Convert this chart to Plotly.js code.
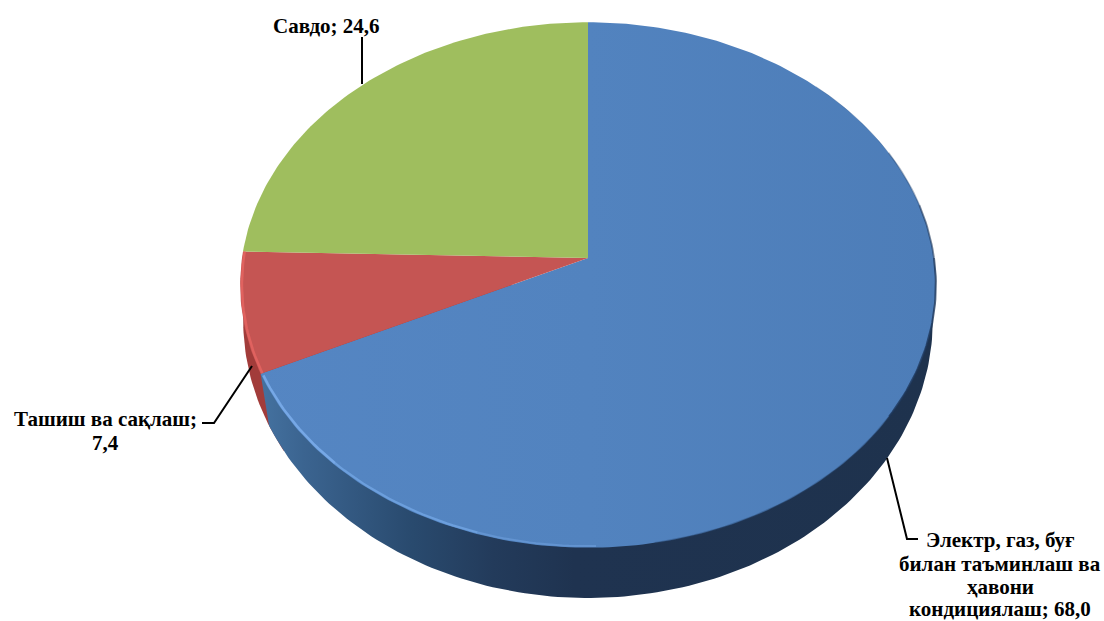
<!DOCTYPE html>
<html><head><meta charset="utf-8">
<script src="https://cdn.plot.ly/plotly-3.0.1.min.js"></script>
<style>html,body{margin:0;padding:0;background:#fff;overflow:hidden}#c{width:1104px;height:621px}</style>
</head><body><div id="c"></div>
<script>
// Data
var categories = ['Электр, газ, буғ<br>билан таъминлаш ва<br>ҳавони<br>кондициялаш', 'Ташиш ва сақлаш', 'Савдо'];
var values = [68.0, 7.4, 24.6];
var separators = ['; ', ';<br>', '; '];

// Styles
var topColors = ['#5081bd', '#c55553', '#9fbe5e'];
var wallColors = ['#2a4a70', '#a23c3a', '#7d9645'];
var labelX = [1000, 105, 326];
var labelLineY = [[540, 564, 587, 609], [419, 443], [26]];

// Projection of the tilted disc (perspective): value angle -> page pixels
var k = 0.1027;
var discTop = {cx: 588, cy: 258, a: 260, b: 346};
var discLow = {cx: 588, cy: 291.5, a: 275, b: 343};
function proj(d, deg, r) {
  var t = deg * Math.PI / 180, px = r * Math.sin(t), py = r * Math.cos(t), w = 1 + k * py;
  return [d.cx + d.b * px / w, d.cy - d.a * py / w];
}
function arc(d, a0, a1, r) {
  var xs = [], ys = [], n = Math.max(2, Math.ceil(Math.abs(a1 - a0) / 1));
  for (var i = 0; i <= n; i++) { var p = proj(d, a0 + (a1 - a0) * i / n, r); xs.push(p[0]); ys.push(p[1]); }
  return {x: xs, y: ys};
}
function sector(d, a0, a1) {
  var s = arc(d, a0, a1, 1);
  return {x: [d.cx].concat(s.x, [d.cx]), y: [d.cy].concat(s.y, [d.cy])};
}
var total = values.reduce(function (a, b) { return a + b; }, 0);
var bounds = [0];
values.forEach(function (v, i) { bounds.push(bounds[i] + v / total * 360); });

var traces = [];
function fillTrace(g, name, color, grad) {
  var t = {type: 'scatter', mode: 'lines', x: g.x, y: g.y, fill: 'toself', fillcolor: color,
    line: {width: 0, color: color}, hoverinfo: 'skip', name: name, showlegend: false};
  if (grad) t.fillgradient = grad;
  traces.push(t);
}
function rimLine(a0, a1, r, color, w) {
  var g = arc(discTop, a0, a1, r);
  traces.push({type: 'scatter', mode: 'lines', x: g.x, y: g.y, line: {color: color, width: w},
    hoverinfo: 'skip', showlegend: false});
}

// Side walls: the blue wall ends on a near-vertical edge under the slice boundary
fillTrace(sector(discLow, bounds[1] - 8, bounds[2] + 5), categories[1] + ' wall', wallColors[1]);
var lowArc = arc(discLow, 60, bounds[1] - 2.5, 1);
var edgeTop = proj(discTop, bounds[1], 1);
fillTrace({x: [discLow.cx].concat(lowArc.x, [edgeTop[0], discLow.cx]), y: [discLow.cy].concat(lowArc.y, [edgeTop[1], discLow.cy])},
  categories[0] + ' wall', wallColors[0], {
  type: 'horizontal', start: 263, stop: 940,
  colorscale: [[0, '#44719f'], [0.06, '#3b6490'], [0.22, '#294a6e'], [0.34, '#233b5b'], [0.46, '#1f3350'], [1, '#1e324d']]
});

// Top faces
fillTrace(sector(discTop, bounds[0], bounds[1]), categories[0], topColors[0], {
  type: 'horizontal', start: 240, stop: 936,
  colorscale: [[0, '#5586c3'], [0.5, '#5283bf'], [1, '#4d7db8']]
});
fillTrace(sector(discTop, bounds[1], bounds[2]), categories[1], topColors[1]);
fillTrace(sector(discTop, bounds[2], bounds[3]), categories[2], topColors[2]);

// Bevel highlights and shadows
rimLine(bounds[1] - 22, bounds[1] - 0.5, 0.995, '#76a8e6', 2.5);
rimLine(bounds[1] - 48, bounds[1] - 22, 0.995, '#6c9fdd', 2.2);
rimLine(bounds[1] - 66, bounds[1] - 48, 0.995, '#6394d1', 2);
rimLine(bounds[1], bounds[2], 0.995, '#e0625f', 2.5);
rimLine(45, 65, 1.0, 'rgba(40,70,110,0.2)', 1);
rimLine(65, 78, 1.0, 'rgba(40,70,110,0.4)', 1.5);
rimLine(78, 90, 1.0, 'rgba(30,55,90,0.6)', 1.8);
rimLine(90, 125, 1.0, 'rgba(30,55,90,0.8)', 2);
rimLine(125, 170, 1.0, 'rgba(40,70,110,0.4)', 1.5);

// Labels: one annotation per text line so that the line spacing is the reference's
var annotations = [];
categories.forEach(function (c, i) {
  var lines = (c + separators[i] + values[i].toFixed(1).replace('.', ',')).split('<br>');
  lines.forEach(function (ln, j) {
    annotations.push({x: labelX[i], y: labelLineY[i][j], xref: 'x', yref: 'y', xanchor: 'center', yanchor: 'middle',
      showarrow: false, align: 'center', text: '<b>' + ln + '</b>',
      font: {family: '"Liberation Serif","Times New Roman",serif', size: 21, color: '#000'}});
  });
});
var leaderLine = {color: '#000', width: 2};
var shapes = [
  'M887,458 L907,539 L918,539',
  'M202,423 L214,423 L252,366',
  'M362,37 L362,84'
].map(function (p) { return {type: 'path', path: p, xref: 'x', yref: 'y', line: leaderLine, layer: 'above'}; });

Plotly.newPlot('c', traces, {
  width: 1104, height: 621, margin: {l: 0, r: 0, t: 0, b: 0},
  paper_bgcolor: '#fff', plot_bgcolor: '#fff', showlegend: false, hovermode: false,
  xaxis: {range: [0, 1104], visible: false, fixedrange: true},
  yaxis: {range: [621, 0], visible: false, fixedrange: true},
  annotations: annotations, shapes: shapes
}, {displayModeBar: false, staticPlot: true});
</script></body></html>
